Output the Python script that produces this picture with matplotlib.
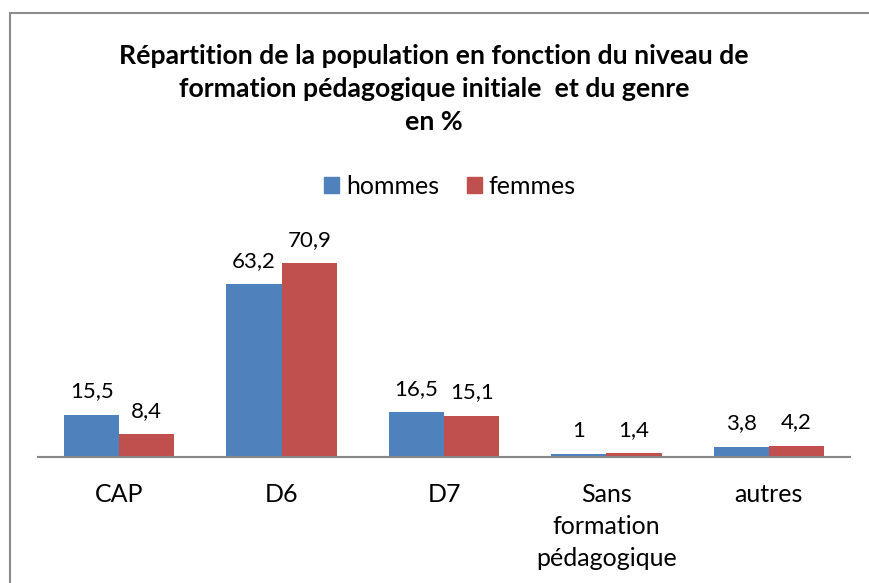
import matplotlib
matplotlib.use("Agg")
import matplotlib.pyplot as plt
from matplotlib.patches import Rectangle, Patch
import numpy as np

categories = ["CAP", "D6", "D7", "Sans\nformation\npédagogique", "autres"]
hommes = [15.5, 63.2, 16.5, 1.0, 3.8]
femmes = [8.4, 70.9, 15.1, 1.4, 4.2]
series_names = ["hommes", "femmes"]
title = "Répartition de la population en fonction du niveau de\nformation pédagogique initiale  et du genre\nen %"

plt.rcParams['font.family'] = ['Lato', 'DejaVu Sans']

W, H = 869, 583
fig = plt.figure(figsize=(W / 100, H / 100), dpi=100)

# outer chart frame
fig.patches.append(Rectangle((9.5 / W, -0.1), 1.2, (H - 13) / H + 0.1,
                             transform=fig.transFigure, fill=False,
                             edgecolor="#8c8c8c", linewidth=1.5))

ax_left, ax_right = 38, 850
ax_bottom_px = 457
ymax = 80
px_per_unit = 194 / 70.9
ax_h = ymax * px_per_unit
ax = fig.add_axes([ax_left / W, (H - ax_bottom_px) / H, (ax_right - ax_left) / W, ax_h / H])

x = np.arange(len(categories))
bw = 0.34
blue = "#4F81BD"
red = "#C0504D"
b1 = ax.bar(x - bw / 2, hommes, bw, color=blue, label=series_names[0])
b2 = ax.bar(x + bw / 2, femmes, bw, color=red, label=series_names[1])

def fmt(v):
    return ("%g" % v).replace(".", ",")

FS = 18
FS_NUM = 16
for bars, vals in ((b1, hommes), (b2, femmes)):
    for r, v in zip(bars, vals):
        ax.annotate(fmt(v), (r.get_x() + r.get_width() / 2, v),
                    xytext=(0, 9.5), textcoords="offset points",
                    ha="center", va="bottom", fontsize=FS_NUM, color="black")

ax.set_xlim(-0.5, len(categories) - 0.5)
ax.set_ylim(0, ymax)
ax.set_yticks([])
ax.set_xticks(x)
ax.set_xticklabels(categories, fontsize=FS, linespacing=1.49)
ax.tick_params(axis="x", length=0, pad=18.5)
for s in ("top", "right", "left"):
    ax.spines[s].set_visible(False)
ax.spines["bottom"].set_color("#868686")
ax.spines["bottom"].set_linewidth(1.5)
ax.patch.set_alpha(0)

fig.text(434 / W, 1 - 89 / H, title, ha="center", va="center",
         fontsize=19.2, fontweight="bold", linespacing=1.46)

handles = [Patch(color=blue), Patch(color=red)]
fig.legend(handles, series_names, loc="center", bbox_to_anchor=(450 / W, 1 - 186 / H),
           ncol=2, frameon=False, fontsize=FS, handlelength=0.6, handleheight=0.6,
           handletextpad=0.28, columnspacing=1.1)

fig.savefig("out.png", dpi=100)
